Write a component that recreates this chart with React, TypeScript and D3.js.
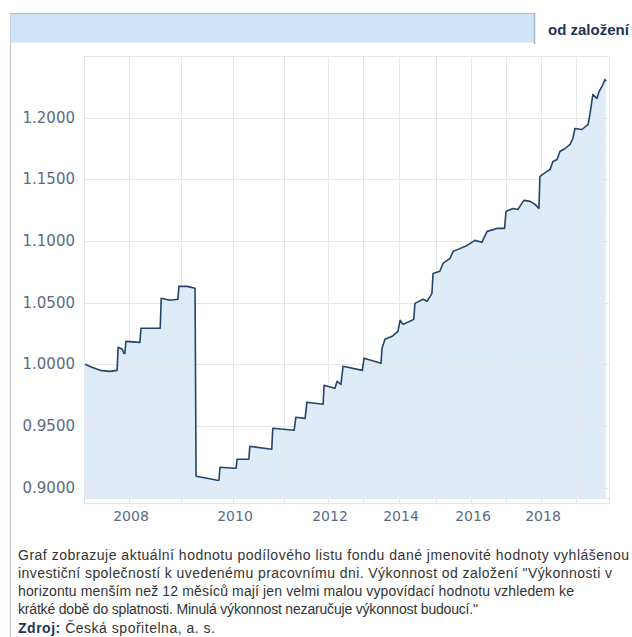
import React from "react";
import * as d3 from "d3";

// Ordinal-like time axis: segment boundaries (decimal years) and relative density of records per segment
const segmentBreaks = [2007.13, 2008, 2009, 2010, 2011, 2012, 2013, 2014, 2015, 2016, 2017, 2018, 2019, 2019.9];
const recordsPerSegment = [45, 52, 52, 51, 44, 35, 36, 37, 35, 35, 35, 35, 33];

const gridYears = [2008, 2009, 2010, 2011, 2012, 2013, 2014, 2015, 2016, 2017, 2018, 2019];
const labelYears = [2008, 2010, 2012, 2014, 2016, 2018];
const yTicks = [0.9, 0.95, 1.0, 1.05, 1.1, 1.15, 1.2];
const yDomain = [0.8916, 1.25];

const dates = [
  2007.15, 2007.28, 2007.44, 2007.63, 2007.77, 2007.79, 2007.87, 2007.9, 2007.92, 2007.94,
  2008.21, 2008.23, 2008.6, 2008.62, 2008.79, 2008.94, 2008.96, 2009.12, 2009.27, 2009.29,
  2009.5, 2009.6, 2009.69, 2009.73, 2009.75, 2010.04, 2010.06, 2010.08, 2010.31, 2010.33,
  2010.76, 2010.78, 2011.23, 2011.27, 2011.48, 2011.52, 2011.89, 2011.91, 2012.2, 2012.26,
  2012.37, 2012.43, 2012.98, 2013.03, 2013.5, 2013.53, 2013.61, 2013.81, 2013.97, 2014.03,
  2014.11, 2014.35, 2014.4, 2014.43, 2014.65, 2014.76, 2014.89, 2014.92, 2015.11, 2015.2,
  2015.4, 2015.49, 2015.63, 2015.89, 2016.11, 2016.31, 2016.46, 2016.74, 2016.96, 2017.0,
  2017.2, 2017.34, 2017.51, 2017.69, 2017.83, 2017.94, 2017.97, 2018.17, 2018.26, 2018.34,
  2018.46, 2018.54, 2018.69, 2018.83, 2018.91, 2018.97, 2019.16, 2019.33, 2019.38, 2019.46,
  2019.57, 2019.63, 2019.71, 2019.79, 2019.82,
];
const values = [
  1.0, 0.9976, 0.9951, 0.9943, 0.9951, 1.0138, 1.0122, 1.0089, 1.0089, 1.0186,
  1.0178, 1.0292, 1.0292, 1.0535, 1.0519, 1.0527, 1.0632, 1.0632, 1.0616, 0.9092,
  0.9076, 0.9068, 0.906, 0.906, 0.9165, 0.9157, 0.9157, 0.923, 0.923, 0.9335,
  0.9311, 0.9481, 0.9465, 0.9571, 0.9562, 0.9692, 0.9676, 0.983, 0.9806, 0.9862,
  0.9838, 0.9984, 0.9951, 1.0049, 1.0008, 1.013, 1.0203, 1.0227, 1.0267, 1.0357,
  1.0324, 1.0357, 1.0365, 1.0494, 1.0527, 1.0511, 1.0575, 1.0737, 1.0754, 1.0818,
  1.0859, 1.0916, 1.0932, 1.0964, 1.1005, 1.0989, 1.1078, 1.1102, 1.1102, 1.124,
  1.1264, 1.1256, 1.1329, 1.1321, 1.1297, 1.1264, 1.1524, 1.1564, 1.158, 1.1645,
  1.1661, 1.1726, 1.175, 1.1783, 1.1831, 1.1912, 1.1904, 1.1945, 1.2026, 1.2188,
  1.2156, 1.2212, 1.2253, 1.231, 1.2294,
];

const tabLabel = "od založení";
const noteLines = [
  "Graf zobrazuje aktuální hodnotu podílového listu fondu dané jmenovité hodnoty vyhlášenou",
  "investiční společností k uvedenému pracovnímu dni. Výkonnost od založení \"Výkonnosti v",
  "horizontu menším než 12 měsíců mají jen velmi malou vypovídací hodnotu vzhledem ke",
  "krátké době do splatnosti. Minulá výkonnost nezaručuje výkonnost budoucí.\"",
];
const sourceLabel = "Zdroj:";
const sourceText = " Česká spořitelna, a. s.";

const W = 632;
const H = 637;
const plot = { left: 84, right: 609, top: 56, bottom: 498 };
const noteLeft = 18;
const noteLineWidths = [611, 594, 556, 460];
const sourceLineWidth = 197;

export default function App() {
  const total = d3.sum(recordsPerSegment);
  const cum = [0, ...d3.cumsum(recordsPerSegment)];
  const x = d3
    .scaleLinear()
    .domain(segmentBreaks)
    .range(cum.map((c) => plot.left + (c / total) * (plot.right - plot.left)));
  const y = d3.scaleLinear().domain(yDomain).range([plot.bottom, plot.top]);

  const data = dates.map((d, i) => ({ t: d, v: values[i] }));
  const line = d3
    .line<{ t: number; v: number }>()
    .x((d) => x(d.t))
    .y((d) => y(d.v));
  const area = d3
    .area<{ t: number; v: number }>()
    .x((d) => x(d.t))
    .y0(plot.bottom)
    .y1((d) => y(d.v));

  const grid = "#e4e6e9";
  const axisFont = "'DejaVu Sans', Verdana, sans-serif";
  const textFont = "'Liberation Sans', Arial, Helvetica, sans-serif";

  return (
    <svg
      width={W}
      height={H}
      style={{ position: "absolute", left: 0, top: 0, background: "#fff" }}
    >
      {/* frame */}
      <line x1={10.5} x2={10.5} y1={13} y2={H} stroke="#b9c5d1" strokeWidth={1} />
      <rect x={10.5} y={13.5} width={524} height={29} fill="#cfe4f6" />
      <line x1={10} x2={535} y1={13.5} y2={13.5} stroke="#a9c0d4" strokeWidth={1} />
      <line x1={534.5} x2={534.5} y1={13} y2={44} stroke="#a7b4c0" strokeWidth={1.5} />
      <text
        x={548}
        y={35}
        fontFamily={textFont}
        fontWeight="bold"
        fontSize={15}
        fill="#1e3657"
      >
        {tabLabel}
      </text>

      {/* area */}
      <path d={area(data) || ""} fill="#7cb5ec" fillOpacity={0.25} />

      {/* grid */}
      {yTicks.map((t) => (
        <line
          key={"h" + t}
          x1={plot.left}
          x2={plot.right}
          y1={Math.round(y(t)) + 0.5}
          y2={Math.round(y(t)) + 0.5}
          stroke={grid}
          strokeWidth={1}
        />
      ))}
      {gridYears.map((yr) => (
        <line
          key={"v" + yr}
          x1={Math.round(x(yr)) + 0.5}
          x2={Math.round(x(yr)) + 0.5}
          y1={plot.top}
          y2={plot.bottom + 5}
          stroke={grid}
          strokeWidth={1}
        />
      ))}
      <rect
        x={plot.left + 0.5}
        y={plot.top + 0.5}
        width={plot.right - plot.left}
        height={plot.bottom + 5 - plot.top}
        fill="none"
        stroke={grid}
      />
      <line x1={plot.left} x2={plot.right} y1={plot.bottom + 0.5} y2={plot.bottom + 0.5} stroke={grid} />

      {/* series */}
      <path
        d={line(data) || ""}
        fill="none"
        stroke="#26446a"
        strokeWidth={1.6}
        strokeLinejoin="round"
      />

      {/* y labels */}
      {yTicks.map((t) => (
        <text
          key={"yl" + t}
          x={75}
          y={y(t) + 5}
          textAnchor="end"
          fontFamily={axisFont}
          fontSize={15}
          fill="#5a6b80"
        >
          {d3.format(".4f")(t)}
        </text>
      ))}
      {/* x labels */}
      {labelYears.map((yr) => (
        <text
          key={"xl" + yr}
          x={x(yr) + 2}
          y={521}
          textAnchor="middle"
          fontFamily={axisFont}
          fontSize={14}
          fill="#5a6b80"
        >
          {yr}
        </text>
      ))}

      {/* note */}
      {noteLines.map((l, i) => (
        <text
          key={"n" + i}
          x={noteLeft}
          y={560 + i * 18}
          fontFamily={textFont}
          fontSize={14}
          fill="#333"
          textLength={noteLineWidths[i]}
          lengthAdjust="spacing"
        >
          {l}
        </text>
      ))}
      <text
        x={noteLeft}
        y={633}
        fontFamily={textFont}
        fontSize={14}
        fill="#333"
        textLength={sourceLineWidth}
        lengthAdjust="spacing"
      >
        <tspan fontWeight="bold" fill="#1e3657">{sourceLabel}</tspan>
        <tspan>{sourceText}</tspan>
      </text>
    </svg>
  );
}
